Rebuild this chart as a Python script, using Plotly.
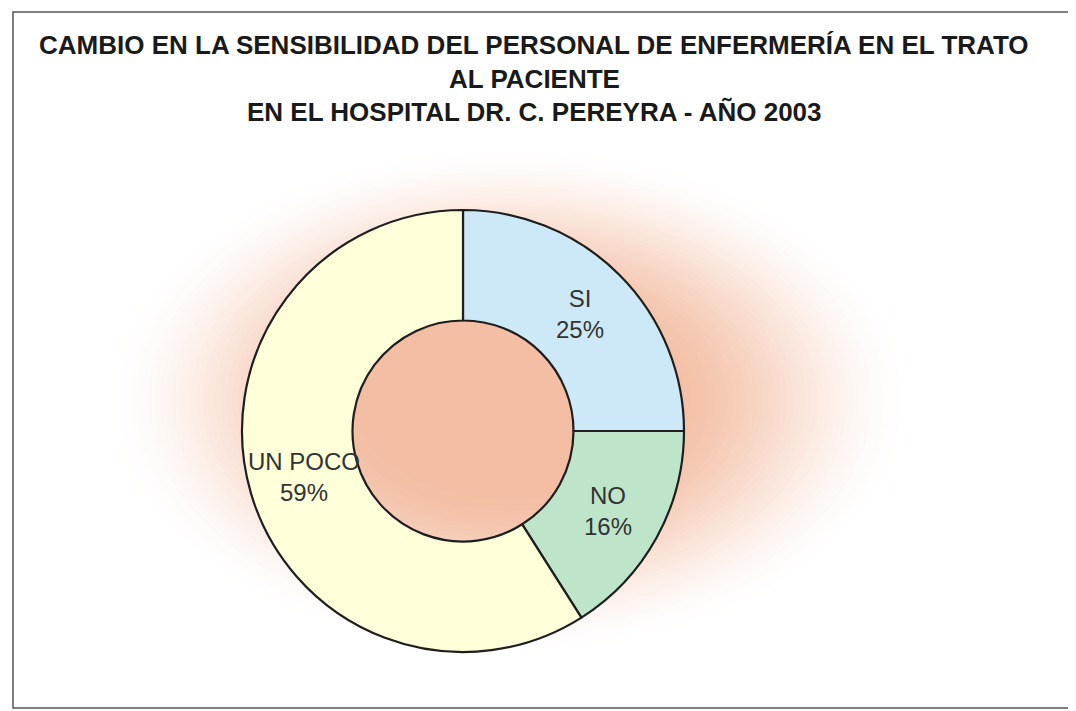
import math
import plotly.graph_objects as go

# ---- data ----
categories = ["SI", "NO", "UN POCO"]
values = [25, 16, 59]
slice_colors = ["#CDE9F7", "#BEE5C9", "#FFFFD9"]
title_lines = [
    "CAMBIO EN LA SENSIBILIDAD DEL PERSONAL DE ENFERMERÍA EN EL TRATO",
    "AL PACIENTE",
    "EN EL HOSPITAL DR. C. PEREYRA - AÑO 2003",
]

# page has an 8px body margin; figure is sized/positioned to compensate
OFF = 8
W, H = 1076 - OFF, 711 - OFF


def px(x):
    return (x - OFF) / W


def py(y):
    return (H - (y - OFF)) / H


fig = go.Figure()

CX, CY, R = 463, 431, 221
fig.add_trace(go.Pie(
    labels=categories,
    values=values,
    hole=0.5,
    sort=False,
    direction="clockwise",
    rotation=0,
    marker=dict(colors=slice_colors, line=dict(color="#1e1e1e", width=2.2)),
    textinfo="none",
    showlegend=False,
    hoverinfo="label+percent",
    domain=dict(x=[px(CX - R), px(CX + R)], y=[py(CY + R), py(CY - R)]),
))

shapes = []
# soft radial glow in the background (opaque bands, white -> salmon)
gcx, gcy = px(510), py(400)
gax, gay = 410 / W, 260 / H
peak = (243, 190, 164)
n = 50
for i in range(n):
    t = i / (n - 1)
    s = 1.0 - 0.72 * t
    w = min(1.0, t / 0.9)
    w = w * w * (3 - 2 * w)
    col = tuple(round(255 + (p - 255) * w) for p in peak)
    shapes.append(dict(type="circle", xref="paper", yref="paper", layer="below",
                       x0=gcx - gax * s, x1=gcx + gax * s, y0=gcy - gay * s, y1=gcy + gay * s,
                       line=dict(width=0), fillcolor="rgb(%d,%d,%d)" % col))
# frame
shapes.append(dict(type="rect", xref="paper", yref="paper", layer="above",
                   x0=px(13), x1=1.02, y0=py(708), y1=py(12),
                   line=dict(color="#555555", width=1.5), fillcolor="rgba(0,0,0,0)"))

annotations = []
ys = [45, 79, 112]
for txt, yy in zip(title_lines, ys):
    annotations.append(dict(text=f"<b>{txt}</b>", xref="paper", yref="paper",
                            x=px(534), y=py(yy), xanchor="center", yanchor="middle",
                            showarrow=False,
                            font=dict(family="Liberation Sans, Arial, sans-serif", size=26, color="#1a1a1a")))

# slice labels at the middle of each ring segment
total = sum(values)
cum = 0
for lab, v in zip(categories, values):
    mid = (cum + v / 2) / total * 2 * math.pi
    cum += v
    rr = 0.75 * R
    annotations.append(dict(text=f"{lab}<br>{round(100 * v / total)}%", xref="paper", yref="paper",
                            x=px(CX + rr * math.sin(mid)), y=py(CY - rr * math.cos(mid)),
                            xanchor="center", yanchor="middle", showarrow=False,
                            font=dict(family="Liberation Sans, Arial, sans-serif", size=24, color="#333333")))

fig.update_layout(
    width=W, height=H,
    margin=dict(l=0, r=0, t=0, b=0),
    paper_bgcolor="white",
    plot_bgcolor="white",
    shapes=shapes,
    annotations=annotations,
)

fig.write_html("out.html")
